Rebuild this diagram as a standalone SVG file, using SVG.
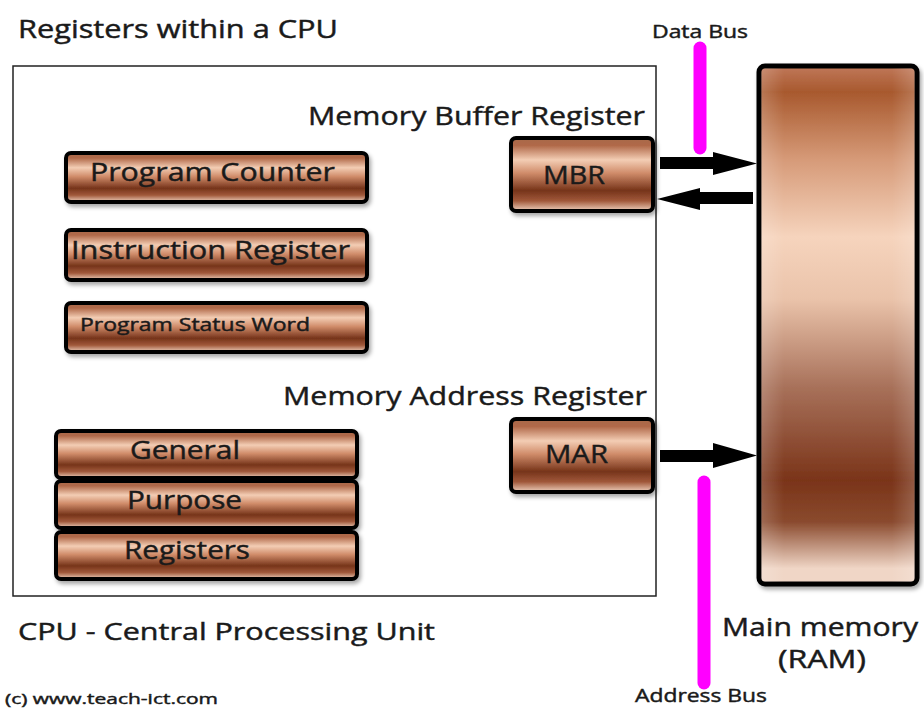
<svg xmlns="http://www.w3.org/2000/svg" width="924" height="710" viewBox="0 0 924 710">
<defs>
<linearGradient id="reg" x1="0" y1="0" x2="0" y2="1">
<stop offset="0" stop-color="#a86a4a"/>
<stop offset="0.1" stop-color="#b06848"/>
<stop offset="0.3" stop-color="#f3cdb4"/>
<stop offset="0.48" stop-color="#d08c6a"/>
<stop offset="0.72" stop-color="#76341a"/>
<stop offset="0.86" stop-color="#a0583a"/>
<stop offset="1" stop-color="#f0d2bf"/>
</linearGradient>
<linearGradient id="ram" x1="0" y1="0" x2="0" y2="1">
<stop offset="0" stop-color="#c0785a"/>
<stop offset="0.05" stop-color="#a8592e"/>
<stop offset="0.18" stop-color="#d69a78"/>
<stop offset="0.33" stop-color="#f6d4bd"/>
<stop offset="0.45" stop-color="#eac3aa"/>
<stop offset="0.62" stop-color="#a8715a"/>
<stop offset="0.8" stop-color="#7a3419"/>
<stop offset="0.88" stop-color="#8a4a2e"/>
<stop offset="0.97" stop-color="#f0d6c6"/>
<stop offset="1" stop-color="#f0d6c6"/>
</linearGradient>
<linearGradient id="ramside" x1="0" y1="0" x2="1" y2="0">
<stop offset="0" stop-color="#ffffff" stop-opacity="0.18"/>
<stop offset="0.15" stop-color="#ffffff" stop-opacity="0"/>
<stop offset="0.85" stop-color="#ffffff" stop-opacity="0"/>
<stop offset="1" stop-color="#ffffff" stop-opacity="0.18"/>
</linearGradient>
<filter id="sh" x="-10%" y="-10%" width="130%" height="140%">
<feDropShadow dx="2" dy="3" stdDeviation="2" flood-color="#000" flood-opacity="0.35"/>
</filter>
</defs>
<style>
text{font-family:"Open Sans","Noto Sans","Liberation Sans",sans-serif;fill:#1a1a1a;stroke:#1a1a1a;stroke-width:0.45}
.box{fill:url(#reg);stroke:#000;stroke-width:4;filter:url(#sh)}
.bus{stroke:#ff00ff;stroke-width:13;stroke-linecap:round;fill:none}
.arr{fill:#000}
</style>

<text x="18" y="38" font-size="25" textLength="320" lengthAdjust="spacingAndGlyphs">Registers within a CPU</text>

<rect id="cpu" x="13" y="66" width="643" height="530" fill="none" stroke="#222" stroke-width="1.5"/>

<g id="pc">
<rect class="box" x="66" y="153" width="301" height="49" rx="5"/>
<text x="90" y="181" font-size="25" textLength="245" lengthAdjust="spacingAndGlyphs">Program Counter</text>
</g>
<g id="ir">
<rect class="box" x="66" y="230" width="301" height="50" rx="5"/>
<text x="71" y="259" font-size="25" textLength="279" lengthAdjust="spacingAndGlyphs">Instruction Register</text>
</g>
<g id="psw">
<rect class="box" x="66" y="303" width="301" height="49" rx="5"/>
<text x="80" y="331" font-size="18" textLength="230" lengthAdjust="spacingAndGlyphs">Program Status Word</text>
</g>

<g id="gpr">
<rect class="box" x="56" y="431" width="301" height="47" rx="5"/>
<rect class="box" x="56" y="481" width="301" height="47" rx="5"/>
<rect class="box" x="56" y="532" width="301" height="47" rx="5"/>
<text x="130" y="459" font-size="25" textLength="110" lengthAdjust="spacingAndGlyphs">General</text>
<text x="127" y="509" font-size="25" textLength="115" lengthAdjust="spacingAndGlyphs">Purpose</text>
<text x="124" y="559" font-size="25" textLength="126" lengthAdjust="spacingAndGlyphs">Registers</text>
</g>

<g id="mbr">
<text x="308" y="125" font-size="26" textLength="337" lengthAdjust="spacingAndGlyphs">Memory Buffer Register</text>
<rect class="box" x="511" y="138" width="142" height="73" rx="5"/>
<text x="543" y="184" font-size="26" textLength="62" lengthAdjust="spacingAndGlyphs">MBR</text>
</g>

<g id="mar">
<text x="283" y="405" font-size="26" textLength="364" lengthAdjust="spacingAndGlyphs">Memory Address Register</text>
<rect class="box" x="511" y="419" width="142" height="73" rx="5"/>
<text x="545" y="463" font-size="26" textLength="63" lengthAdjust="spacingAndGlyphs">MAR</text>
</g>

<g id="ram">
<rect x="759" y="66" width="158" height="518" rx="6" fill="url(#ram)" stroke="#000" stroke-width="5" filter="url(#sh)"/>
<rect x="761" y="68" width="154" height="514" rx="5" fill="url(#ramside)"/>
<text x="722" y="636" font-size="25" textLength="196" lengthAdjust="spacingAndGlyphs">Main memory</text>
<text x="778" y="668" font-size="25" textLength="88" lengthAdjust="spacingAndGlyphs">(RAM)</text>
</g>

<g id="databus">
<line class="bus" x1="700" y1="48" x2="700" y2="148"/>
<text x="652" y="38" font-size="18" textLength="96" lengthAdjust="spacingAndGlyphs">Data Bus</text>
</g>
<g id="addressbus">
<line class="bus" x1="704" y1="482" x2="704" y2="683"/>
<text x="635" y="702" font-size="19" textLength="132" lengthAdjust="spacingAndGlyphs">Address Bus</text>
</g>

<g id="connectors">
<polygon class="arr" points="660,157 713,157 713,152 757,163.5 713,175 713,169 660,169"/>
<polygon class="arr" points="753,192 700,192 700,188 657,199 700,210 700,204 753,204"/>
<polygon class="arr" points="660,450 713,450 713,443 757,455.5 713,468 713,462 660,462"/>
</g>

<text x="18" y="640" font-size="24" textLength="417" lengthAdjust="spacingAndGlyphs">CPU - Central Processing Unit</text>
<text x="5" y="704" font-size="15" textLength="213" lengthAdjust="spacingAndGlyphs">(c) www.teach-ict.com</text>
</svg>
